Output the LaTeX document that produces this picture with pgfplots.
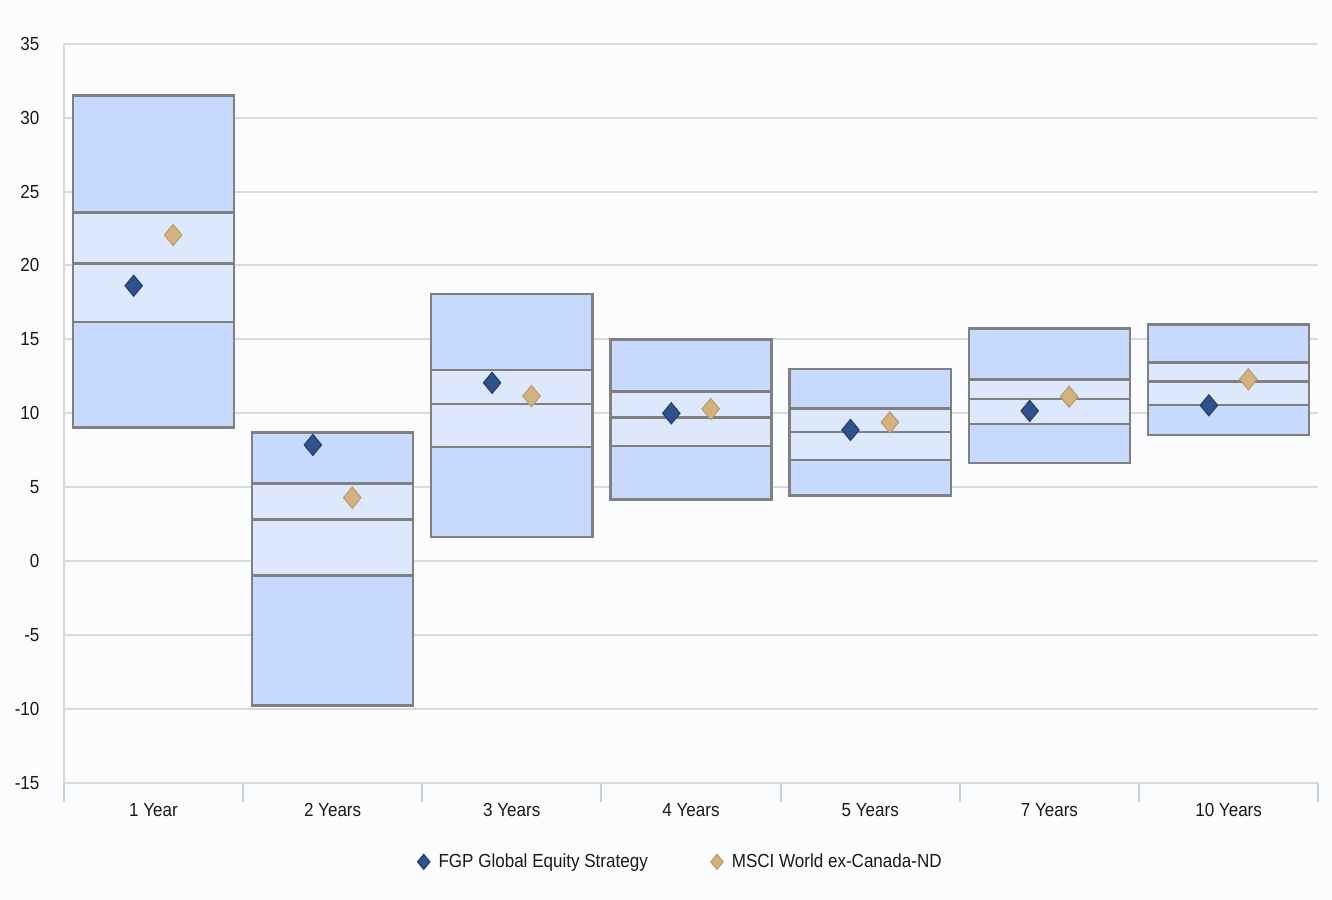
\documentclass[border=0pt]{standalone}
\usepackage{fontspec}
\setmainfont{Liberation Sans}[FakeStretch=0.9]
\usepackage{pgfplots}
\pgfplotsset{compat=1.18}
\usepgfplotslibrary{statistics}
\usetikzlibrary{backgrounds}

\definecolor{boxdark}{RGB}{199,217,252}
\definecolor{boxlight}{RGB}{222,232,253}
\definecolor{boxline}{RGB}{128,128,128}
\definecolor{gridc}{RGB}{218,218,218}
\definecolor{tickc}{RGB}{196,206,222}
\definecolor{fgp}{RGB}{46,82,138}
\definecolor{fgpline}{RGB}{34,60,108}
\definecolor{msci}{RGB}{212,178,126}
\definecolor{mscline}{RGB}{188,152,102}
\definecolor{bgc}{RGB}{251,252,254}
\definecolor{txt}{RGB}{25,25,25}

\pgfplotsset{
  outerbox/.style={forget plot, fill=boxdark, draw=boxline, line width=1.25bp},
  innerbox/.style={forget plot, fill=boxlight, draw=boxline, line width=1.25bp},
}

\begin{document}
\begin{tikzpicture}[show background rectangle,
  background rectangle/.style={fill=bgc, draw=none}, inner frame sep=0pt]
\begin{axis}[
  scale only axis, width=627.2bp, height=369.5bp,
  xmin=-0.5, xmax=6.5, ymin=-15, ymax=35,
  ytick={-15,-10,...,35},
  xtick={0,...,6},
  xticklabels={1 Year, 2 Years, 3 Years, 4 Years, 5 Years, 7 Years, 10 Years},
  extra x ticks={-0.5,0.5,...,6.5},
  extra x tick labels={},
  extra x tick style={major tick length=9.5bp, tick align=outside,
    xtick style={draw=tickc, line width=1bp}},
  xtick style={draw=none}, ytick style={draw=none},
  axis x line*=bottom, axis y line*=left,
  axis line style={draw=gridc, line width=1bp, -},
  ymajorgrids, grid style={draw=gridc, line width=1bp},
  ticklabel style={font=\fontsize{9.5}{11}\selectfont, text=txt},
  /pgf/number format/assume math mode=true,
  xticklabel style={inner sep=0pt, anchor=north, yshift=-10bp},
  yticklabel style={inner sep=0pt, anchor=east, xshift=-12bp},
  boxplot/draw direction=y,
  boxplot/box extend=0.9,
  boxplot/every whisker/.style={draw=none},
  legend style={at={(0.4925,-0.107)}, anchor=center, draw=none, fill=none,
    legend columns=2, font=\fontsize{9.5}{11}\selectfont, text=txt,
    /tikz/every even column/.append style={column sep=29.5bp}},
  legend image code/.code={\draw[#1, mark size=3.8bp] plot coordinates {(0bp,0bp)};
    \path (5.2bp,0bp);},
]
% 1 Year
\addplot[outerbox, boxplot prepared={draw position=0, lower whisker=9.03, lower quartile=9.03, median=20.15, upper quartile=31.49, upper whisker=31.49}] coordinates {};
\addplot[innerbox, boxplot prepared={draw position=0, lower whisker=16.16, lower quartile=16.16, median=20.15, upper quartile=23.57, upper whisker=23.57}] coordinates {};
% 2 Years
\addplot[outerbox, boxplot prepared={draw position=1, lower whisker=-9.78, lower quartile=-9.78, median=2.80, upper quartile=8.71, upper whisker=8.71}] coordinates {};
\addplot[innerbox, boxplot prepared={draw position=1, lower whisker=-0.96, lower quartile=-0.96, median=2.80, upper quartile=5.26, upper whisker=5.26}] coordinates {};
% 3 Years
\addplot[outerbox, boxplot prepared={draw position=2, lower whisker=1.63, lower quartile=1.63, median=10.63, upper quartile=18.07, upper whisker=18.07}] coordinates {};
\addplot[innerbox, boxplot prepared={draw position=2, lower whisker=7.72, lower quartile=7.72, median=10.63, upper quartile=12.93, upper whisker=12.93}] coordinates {};
% 4 Years
\addplot[outerbox, boxplot prepared={draw position=3, lower whisker=4.15, lower quartile=4.15, median=9.70, upper quartile=15.00, upper whisker=15.00}] coordinates {};
\addplot[innerbox, boxplot prepared={draw position=3, lower whisker=7.77, lower quartile=7.77, median=9.70, upper quartile=11.49, upper whisker=11.49}] coordinates {};
% 5 Years
\addplot[outerbox, boxplot prepared={draw position=4, lower whisker=4.43, lower quartile=4.43, median=8.73, upper quartile=12.98, upper whisker=12.98}] coordinates {};
\addplot[innerbox, boxplot prepared={draw position=4, lower whisker=6.84, lower quartile=6.84, median=8.73, upper quartile=10.34, upper whisker=10.34}] coordinates {};
% 7 Years
\addplot[outerbox, boxplot prepared={draw position=5, lower whisker=6.62, lower quartile=6.62, median=10.95, upper quartile=15.75, upper whisker=15.75}] coordinates {};
\addplot[innerbox, boxplot prepared={draw position=5, lower whisker=9.26, lower quartile=9.26, median=10.95, upper quartile=12.30, upper whisker=12.30}] coordinates {};
% 10 Years
\addplot[outerbox, boxplot prepared={draw position=6, lower whisker=8.53, lower quartile=8.53, median=12.14, upper quartile=16.02, upper whisker=16.02}] coordinates {};
\addplot[innerbox, boxplot prepared={draw position=6, lower whisker=10.56, lower quartile=10.56, median=12.14, upper quartile=13.42, upper whisker=13.42}] coordinates {};

% strategy and benchmark
\addplot[only marks, mark=diamond*, mark size=5.3bp,
  mark options={fill=fgp, draw=fgpline, line width=0.5bp, xscale=1.1},
  x filter/.expression={x-0.11}]
  coordinates {(0,18.63) (1,7.86) (2,12.06) (3,10.00) (4,8.87) (5,10.16) (6,10.54)};
\addlegendentry{FGP Global Equity Strategy}
\addplot[only marks, mark=diamond*, mark size=5.3bp,
  mark options={fill=msci, draw=mscline, line width=0.5bp, xscale=1.1},
  x filter/.expression={x+0.11}]
  coordinates {(0,22.06) (1,4.29) (2,11.16) (3,10.29) (4,9.39) (5,11.12) (6,12.30)};
\addlegendentry{MSCI World ex-Canada-ND}
\end{axis}
\path ([shift={(-31.9bp,-58.6bp)}]current axis.south west)
  rectangle ([shift={(6.9bp,21.9bp)}]current axis.north east);
\end{tikzpicture}
\end{document}
